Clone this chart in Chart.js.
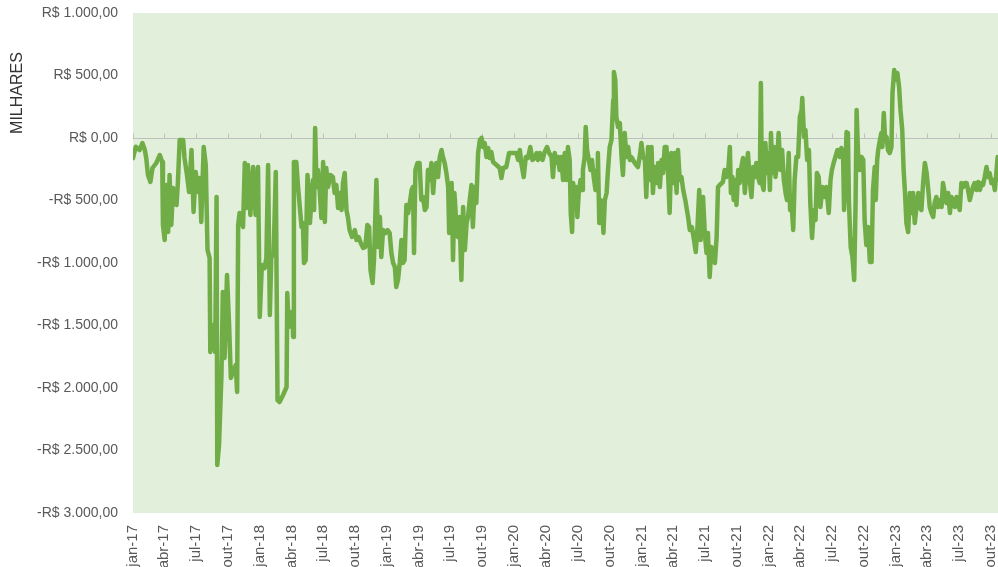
<!DOCTYPE html>
<html>
<head>
<meta charset="utf-8">
<script src="https://cdn.jsdelivr.net/npm/chart.js@4"></script>
<style>
  html, body { margin: 0; padding: 0; background: #fff; overflow: hidden; }
</style>
</head>
<body>
<canvas id="grafico" width="998" height="567"></canvas>
<script>
// rótulos trimestrais do eixo x
const rotulos = [
  'jan-17', 'abr-17', 'jul-17', 'out-17', 'jan-18', 'abr-18', 'jul-18', 'out-18',
  'jan-19', 'abr-19', 'jul-19', 'out-19', 'jan-20', 'abr-20', 'jul-20', 'out-20',
  'jan-21', 'abr-21', 'jul-21', 'out-21', 'jan-22', 'abr-22', 'jul-22', 'out-22',
  'jan-23', 'abr-23', 'jul-23', 'out-23',
]

// dias desde 01/01/2017
const dias = [
  0, 8, 19, 27, 34, 38, 43, 50, 56, 67, 77, 84, 86, 91, 96, 101, 105, 110, 115, 125,
  129, 134, 144, 148, 155, 161, 168, 174, 180, 187, 192, 196, 203, 209, 214, 220, 222, 230, 236, 240,
  242, 247, 254, 258, 263, 270, 276, 281, 287, 295, 299, 302, 306, 316, 321, 326, 330, 337, 345, 352,
  359, 364, 370, 378, 383, 388, 393, 397, 404, 410,
  415, 421, 431, 441, 443, 447, 453, 457, 460, 462, 469, 474, 479, 484, 488, 491, 496, 501, 505, 508,
  512, 517, 520, 523, 527, 531, 536, 541, 546, 551, 555, 560, 567, 574, 579, 584, 589, 594, 599, 603,
  608, 613, 617, 622, 629, 637, 642, 648, 654, 661, 667, 673, 678, 682, 688, 692, 699, 704, 709, 713,
  718, 725, 731, 737, 742, 747, 752, 756, 761, 766, 771, 775, 780, 785, 790, 795, 800, 804, 807, 811, 817,
  823, 828, 833, 838, 843, 847, 852, 857, 862, 866, 871, 876, 881, 886, 890, 895, 900, 905, 908, 912,
  915, 919, 923, 929, 933, 938, 943, 948, 953, 958, 962, 967, 972, 976, 981, 986, 991, 996, 1001, 1005,
  1010, 1015, 1020, 1024, 1029, 1034, 1044, 1053, 1058, 1063, 1072, 1080, 1091, 1101, 1106, 1111, 1115, 1122, 1128, 1134,
  1141, 1147, 1154, 1159, 1163, 1168, 1176, 1182, 1189, 1195, 1202, 1206, 1211, 1216, 1221, 1225, 1230, 1235, 1240,
  1245, 1249, 1254, 1257, 1261, 1264, 1269, 1273, 1276, 1280, 1285, 1290, 1292, 1297, 1300, 1304, 1309, 1314, 1318, 1323,
  1328, 1333, 1335, 1339, 1343, 1347, 1351, 1355, 1360, 1364, 1369, 1374, 1379, 1381, 1385, 1388, 1393, 1398, 1403, 1407,
  1412, 1417, 1422, 1427, 1431, 1441, 1450, 1455, 1460, 1465, 1470, 1474, 1479, 1484, 1489, 1493, 1498, 1503, 1508, 1513,
  1518, 1522, 1527, 1532, 1537, 1541, 1546, 1551, 1556, 1561, 1565, 1570, 1575, 1580, 1586, 1594, 1599, 1605, 1611, 1616,
  1621, 1626, 1630, 1637, 1642, 1647, 1651, 1656, 1661,
  1671, 1676, 1680, 1685, 1694, 1699, 1704, 1709, 1714, 1717, 1721, 1725, 1729, 1733, 1738, 1742, 1747, 1752, 1757, 1762,
  1766, 1771, 1776, 1781, 1786, 1790, 1795, 1800, 1803, 1806, 1811, 1816, 1821, 1825, 1829, 1832, 1836, 1841, 1845, 1850,
  1854, 1859, 1864, 1869, 1874, 1878, 1883, 1887, 1891, 1896, 1900, 1905, 1910, 1915, 1920, 1922, 1927, 1931, 1936, 1941,
  1945, 1950, 1955, 1960, 1964, 1969, 1974, 1980, 1987, 1991, 1998, 2003, 2007, 2012, 2017, 2023, 2030, 2034, 2039, 2042,
  2046, 2049, 2053, 2056, 2061, 2066, 2071, 2075, 2078,
  2082, 2087, 2092, 2097, 2101, 2106, 2111, 2116, 2121, 2125, 2130, 2133, 2137, 2140, 2145, 2149, 2152, 2156, 2160, 2164,
  2168, 2173, 2178, 2181, 2186, 2190, 2195, 2200, 2204, 2209, 2213, 2217, 2221, 2226, 2231, 2236, 2240, 2245, 2250, 2255,
  2259, 2264, 2269, 2274, 2279, 2283, 2288, 2293, 2298, 2302, 2307, 2312, 2317, 2322, 2326, 2331, 2336, 2341, 2346, 2350,
  2355, 2360, 2365, 2369, 2374, 2379, 2384, 2389, 2394, 2398, 2403, 2408, 2412, 2417, 2422, 2427, 2432, 2437, 2441, 2446,
  2451, 2456, 2460, 2465, 2470, 2475, 2480, 2483,
]

// saldo em milhares de reais
const valores = [
  -162, -70, -96, -40, -96, -160, -296, -352, -240, -200, -136, -192, -696, -816, -376, -752, -296, -696, -400, -536,
  -352, -16, -16, -160, -296, -432, -96, -592, -272, -432, -320, -672, -72, -216, -896, -960, -1712, -1496, -1712, -472,
  -2616, -2456, -1896, -1232, -1760, -1096, -1496, -1920, -1872, -1816, -2032, -696, -600, -712, -200, -560, -216, -616, -232, -616,
  -232, -1432, -1016, -1040, -960, -216, -1416, -960, -912, -272,
  -2096, -2112, -2056, -1992, -1240, -1512, -1392, -1400, -1592, -192, -192, -392, -552, -712, -680, -1000, -976, -296, -440, -680,
  -520, -336, -576, 80, -392, -256, -416, -640, -192, -672, -240, -392, -296, -312, -440, -376, -560, -440, -576, -360,
  -280, -576, -632, -736, -792, -736, -816, -792, -840, -880, -872, -696, -712, -1056, -1160, -976, -336, -872, -632, -952,
  -736, -760, -736, -760, -920, -1000, -1032, -1192, -1136, -1000, -816, -1000, -976, -536, -600, -520, -416, -392, -920, -256, -200,
  -200, -496, -472, -576, -552, -256, -336, -200, -440, -280, -200, -312, -152, -96, -152, -200, -280, -392, -760, -520,
  -360, -976, -440, -712, -792, -632, -1136, -552, -896, -680, -632, -496, -376, -712, -392, -520, -120, -16, 0, -72,
  -40, -152, -80, -160, -112, -192, -216, -240, -320, -240, -232, -120, -120, -120, -176, -96, -200, -312, -152, -160,
  -72, -176, -160, -120, -176, -120, -176, -112, -72, -120, -152, -312, -120, -200, -152, -256, -152, -336, -120,
  -336, -72, -176, -600, -752, -360, -496, -392, -632, -440, -336, -416, -256, -152, 88, -96, -176, -256, -176, -312,
  -416, -256, -120, -680, -496, -552, -760, -496, -440, -256, -72, -16, 304, 528, 464, 168, 88, 120, -152, -296,
  40, -152, -72, -176, -152, -200, -232, -152, -40, -152, -176, -472, -72, -336, -72, -440, -232, -360, -200, -392,
  -176, -280, -72, -72, -312, -600, -120, -360, -120, -440, -96, -336, -312, -416, -496, -632, -736, -712, -816, -912,
  -712, -416, -816, -472, -760, -920, -760, -1112, -872,
  -1000, -792, -392, -376, -352, -256, -312, -280, -72, -440, -312, -496, -336, -536, -256, -360, -232, -160, -440, -256,
  -120, -336, -472, -232, -312, -200, -312, -360, 440, -360, -416, -40, -280, -120, -416, 40, -280, -72, -312, -176,
  40, -256, -96, -336, -440, -496, -120, -576, -520, -736, -336, -152, -152, 168, 224, 320, 8, 64, -176, -96,
  -520, -800, -576, -656, -280, -312, -552, -392, -472, -392, -600, -336, -256, -200, -152, -96, -152, -80, -120, -576,
  -256, 48, 40, -520, -872, -952, -1136, -520, 224,
  -120, -256, -152, -176, -656, -856, -712, -992, -992, -416, -232, -496, -176, -96, -16, 40, -72, 200, -16, 8,
  -96, -120, -72, 360, 544, 464, 520, 408, 224, 64, -256, -440, -680, -752, -440, -600, -440, -680, -552, -440,
  -552, -576, -360, -200, -280, -392, -552, -600, -632, -520, -472, -552, -496, -552, -360, -440, -520, -440, -600, -472,
  -496, -552, -472, -520, -576, -360, -392, -360, -360, -416, -496, -440, -392, -360, -416, -352, -416, -360, -376, -312,
  -232, -312, -280, -360, -336, -416, -256, -152,
]

const pontos = dias.map((d, i) => ({ x: d, y: valores[i] }))
const diasTicks = rotulos.map((_, i) => (Date.UTC(2017, i * 3, 1) - Date.UTC(2017, 0, 1)) / 86400000)

function reais(v) {
  const partes = Math.abs(v).toFixed(2).split('.')
  const inteiro = partes[0].replace(/\B(?=(\d{3})+(?!\d))/g, '.')
  return (v < 0 ? '-' : '') + 'R$ ' + inteiro + ',' + partes[1]
}

const fonte = '"Liberation Sans", Arial, sans-serif'
Chart.defaults.font.family = fonte

const fundo = {
  id: 'fundo',
  beforeDraw(chart) {
    const { ctx, chartArea: a } = chart
    ctx.save()
    ctx.fillStyle = '#E2EFDA'
    ctx.fillRect(a.left, a.top, a.right - a.left, a.bottom - a.top)
    ctx.restore()
  },
  beforeDatasetsDraw(chart) {
    const { ctx, chartArea: a, scales } = chart
    const y0 = Math.round(scales.y.getPixelForValue(0)) + 0.5
    ctx.save()
    ctx.strokeStyle = '#BFBFBF'
    ctx.lineWidth = 1
    ctx.beginPath()
    ctx.moveTo(a.left, y0)
    ctx.lineTo(a.right, y0)
    diasTicks.forEach(d => {
      const x = Math.round(scales.x.getPixelForValue(d)) + 0.5
      ctx.moveTo(x, y0)
      ctx.lineTo(x, y0 - 5)
    })
    ctx.stroke()
    // título do eixo y
    ctx.translate(18, a.top + 80)
    ctx.rotate(-Math.PI / 2)
    ctx.fillStyle = '#333333'
    ctx.font = '16px ' + fonte
    ctx.textAlign = 'center'
    ctx.textBaseline = 'middle'
    ctx.fillText('MILHARES', 0, 0)
    ctx.restore()
  },
}

new Chart(document.getElementById('grafico').getContext('2d'), {
  type: 'line',
  data: {
    datasets: [
      {
        label: 'saldo',
        data: pontos,
        borderColor: '#70AD47',
        borderWidth: 4.5,
        borderJoinStyle: 'round',
        borderCapStyle: 'round',
        pointRadius: 0,
        tension: 0,
        fill: false,
      },
    ],
  },
  options: {
    responsive: false,
    animation: false,
    devicePixelRatio: 1,
    layout: { padding: { top: 13, right: 0, left: 0, bottom: 0 } },
    plugins: {
      legend: { display: false },
      tooltip: { enabled: false },
    },
    scales: {
      x: {
        type: 'linear',
        min: 0,
        max: 2484,
        afterBuildTicks: s => { s.ticks = diasTicks.map(v => ({ value: v })) },
        afterFit: s => {
          s.height = 54
          s.paddingLeft = 0
          s.paddingRight = 0
        },
        grid: { display: false, drawTicks: false },
        border: { display: false },
        ticks: {
          autoSkip: false,
          maxRotation: 90,
          minRotation: 90,
          padding: 12,
          color: '#595959',
          font: { size: 15 },
          callback: (v, i) => rotulos[i],
        },
      },
      y: {
        min: -3000,
        max: 1000,
        afterFit: s => {
          s.width = 133
          s.paddingTop = 0
          s.paddingBottom = 0
        },
        grid: { display: false, drawTicks: false },
        border: { display: false },
        ticks: {
          stepSize: 500,
          padding: 15,
          color: '#595959',
          font: { size: 14 },
          callback: v => reais(v),
        },
      },
    },
  },
  plugins: [fundo],
})
</script>
</body>
</html>
